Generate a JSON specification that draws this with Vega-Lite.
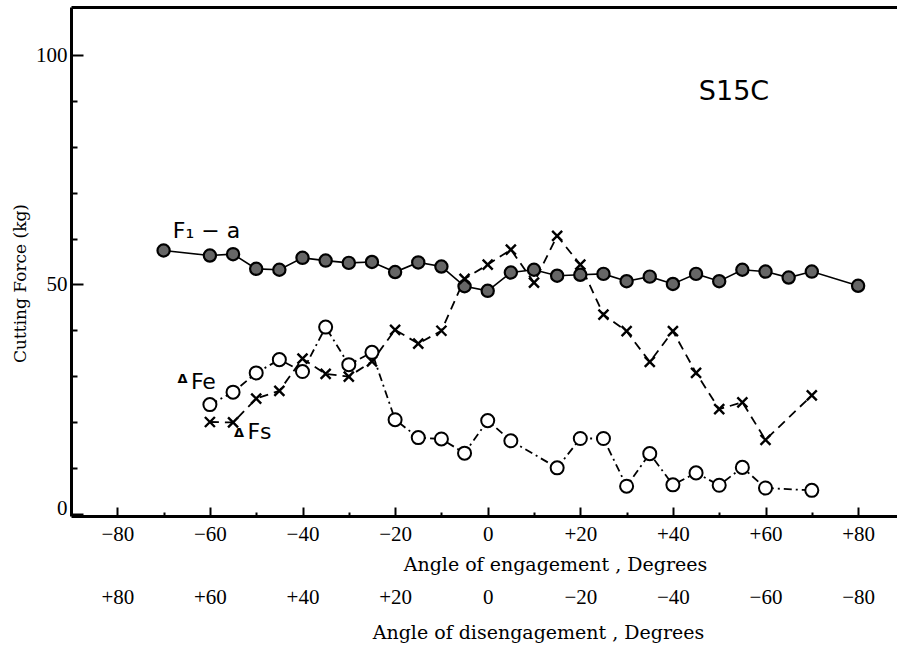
{
  "$schema": "https://vega.github.io/schema/vega-lite/v6.json",
  "autosize": "none",
  "padding": {"left": 71, "top": 7, "right": 0, "bottom": 137},
  "width": 826,
  "height": 509,
  "background": "white",
  "config": {"view": {"stroke": null}},
  "datasets": {
    "pts": [
      {"s": "F", "a": -70, "f": 57.4}, {"s": "F", "a": -60, "f": 56.3}, {"s": "F", "a": -55, "f": 56.6}, {"s": "F", "a": -50, "f": 53.4}, {"s": "F", "a": -45, "f": 53.2}, {"s": "F", "a": -40, "f": 55.8}, {"s": "F", "a": -35, "f": 55.2}, {"s": "F", "a": -30, "f": 54.7}, {"s": "F", "a": -25, "f": 54.9}, {"s": "F", "a": -20, "f": 52.7}, {"s": "F", "a": -15, "f": 54.8}, {"s": "F", "a": -10, "f": 53.9}, {"s": "F", "a": -5, "f": 49.6}, {"s": "F", "a": 0, "f": 48.6}, {"s": "F", "a": 5, "f": 52.6}, {"s": "F", "a": 10, "f": 53.2}, {"s": "F", "a": 15, "f": 51.9}, {"s": "F", "a": 20, "f": 52.1}, {"s": "F", "a": 25, "f": 52.3}, {"s": "F", "a": 30, "f": 50.7}, {"s": "F", "a": 35, "f": 51.7}, {"s": "F", "a": 40, "f": 50.1}, {"s": "F", "a": 45, "f": 52.3}, {"s": "F", "a": 50, "f": 50.7}, {"s": "F", "a": 55, "f": 53.2}, {"s": "F", "a": 60, "f": 52.8}, {"s": "F", "a": 65, "f": 51.5}, {"s": "F", "a": 70, "f": 52.8}, {"s": "F", "a": 80, "f": 49.7},
      {"s": "S", "a": -60, "f": 20.0}, {"s": "S", "a": -55, "f": 19.9}, {"s": "S", "a": -50, "f": 25.1}, {"s": "S", "a": -45, "f": 26.8}, {"s": "S", "a": -40, "f": 33.8}, {"s": "S", "a": -35, "f": 30.5}, {"s": "S", "a": -30, "f": 29.9}, {"s": "S", "a": -25, "f": 33.2}, {"s": "S", "a": -20, "f": 40.1}, {"s": "S", "a": -15, "f": 37.1}, {"s": "S", "a": -10, "f": 39.9}, {"s": "S", "a": -5, "f": 51.2}, {"s": "S", "a": 0, "f": 54.3}, {"s": "S", "a": 5, "f": 57.6}, {"s": "S", "a": 10, "f": 50.4}, {"s": "S", "a": 15, "f": 60.6}, {"s": "S", "a": 20, "f": 54.3}, {"s": "S", "a": 25, "f": 43.4}, {"s": "S", "a": 30, "f": 39.8}, {"s": "S", "a": 35, "f": 33.1}, {"s": "S", "a": 40, "f": 39.8}, {"s": "S", "a": 45, "f": 30.7}, {"s": "S", "a": 50, "f": 22.8}, {"s": "S", "a": 55, "f": 24.3}, {"s": "S", "a": 60, "f": 16.1}, {"s": "S", "a": 70, "f": 25.8},
      {"s": "E", "a": -60, "f": 23.8}, {"s": "E", "a": -55, "f": 26.5}, {"s": "E", "a": -50, "f": 30.7}, {"s": "E", "a": -45, "f": 33.6}, {"s": "E", "a": -40, "f": 31.0}, {"s": "E", "a": -35, "f": 40.7}, {"s": "E", "a": -30, "f": 32.5}, {"s": "E", "a": -25, "f": 35.2}, {"s": "E", "a": -20, "f": 20.5}, {"s": "E", "a": -15, "f": 16.6}, {"s": "E", "a": -10, "f": 16.3}, {"s": "E", "a": -5, "f": 13.2}, {"s": "E", "a": 0, "f": 20.3}, {"s": "E", "a": 5, "f": 15.9}, {"s": "E", "a": 15, "f": 10.0}, {"s": "E", "a": 20, "f": 16.4}, {"s": "E", "a": 25, "f": 16.4}, {"s": "E", "a": 30, "f": 6.0}, {"s": "E", "a": 35, "f": 13.1}, {"s": "E", "a": 40, "f": 6.3}, {"s": "E", "a": 45, "f": 8.9}, {"s": "E", "a": 50, "f": 6.2}, {"s": "E", "a": 55, "f": 10.1}, {"s": "E", "a": 60, "f": 5.6}, {"s": "E", "a": 70, "f": 5.1}
    ],
    "big": [{"t": "S15C", "a": 53.2, "f": 91.9}],
    "lab": [{"t": "F₁ − a", "a": -68.0, "f": 61.6}, {"t": "Fe", "a": -64.1, "f": 28.8}, {"t": "Fs", "a": -51.9, "f": 17.8}],
    "delta": [{"t": "Δ", "a": -67.0, "f": 29.4}, {"t": "Δ", "a": -54.8, "f": 17.6}]
  },
  "resolve": {"axis": {"x": "independent", "y": "independent"}},
  "layer": [
    {
      "data": {"name": "pts"},
      "encoding": {
        "x": {
          "field": "a", "type": "quantitative",
          "scale": {"domain": [-90, 88.4], "nice": false, "zero": false},
          "axis": {
            "values": [-80, -60, -40, -20, 0, 20, 40, 60, 80],
            "labelExpr": "datum.value > 0 ? '+' + datum.value : (datum.value < 0 ? '−' + abs(datum.value) : '0')",
            "grid": false, "ticks": false,
            "domainColor": "black", "domainWidth": 3,
            "labelFont": "Liberation Serif", "labelFontSize": 21, "labelColor": "black",
            "labelPadding": 7, "labelFlush": false,
            "title": "Angle of engagement ,  Degrees",
            "titleFont": "DejaVu Serif", "titleFontSize": 19, "titleFontWeight": "normal", "titleColor": "black",
            "titleX": 484, "titleY": 48, "titleBaseline": "middle"
          }
        },
        "y": {
          "field": "f", "type": "quantitative",
          "scale": {"domain": [-0.5, 110.5], "nice": false, "zero": false},
          "axis": {
            "orient": "left",
            "values": [0, 50, 100],
            "grid": false, "ticks": false,
            "domainColor": "black", "domainWidth": 3,
            "labelFont": "Liberation Serif", "labelFontSize": 21, "labelColor": "black",
            "labelPadding": 4,
            "labelOffset": {"condition": {"test": "datum.value === 0", "value": -5}, "value": 0},
            "title": "Cutting Force (kg)",
            "titleFont": "DejaVu Serif", "titleFontSize": 17, "titleFontWeight": "normal", "titleColor": "black",
            "titleX": -51, "titleY": 276, "titleAngle": -90, "titleBaseline": "middle"
          }
        }
      },
      "layer": [
        {"transform": [{"filter": "datum.s === 'F'"}], "mark": {"type": "line", "color": "black", "strokeWidth": 1.6}},
        {"transform": [{"filter": "datum.s === 'S'"}], "mark": {"type": "line", "color": "black", "strokeWidth": 1.8, "strokeDash": [9, 6]}},
        {"transform": [{"filter": "datum.s === 'E'"}], "mark": {"type": "line", "color": "black", "strokeWidth": 1.8, "strokeDash": [8, 4, 2, 4]}},
        {"transform": [{"filter": "datum.s === 'F'"}], "mark": {"type": "point", "shape": "circle", "filled": true, "fill": "#666666", "stroke": "black", "strokeWidth": 2.2, "size": 150, "opacity": 1}},
        {"transform": [{"filter": "datum.s === 'S'"}], "mark": {"type": "point", "shape": "M-1,-1L1,1M-1,1L1,-1", "filled": false, "stroke": "black", "strokeWidth": 2.4, "size": 100, "opacity": 1}},
        {"transform": [{"filter": "datum.s === 'E'"}], "mark": {"type": "point", "shape": "circle", "filled": true, "fill": "white", "stroke": "black", "strokeWidth": 2, "size": 170, "opacity": 1}},
        {"data": {"name": "big"}, "mark": {"type": "text", "font": "DejaVu Sans", "fontSize": 27, "color": "black", "align": "center", "baseline": "middle"}, "encoding": {"text": {"field": "t"}}},
        {"data": {"name": "lab"}, "mark": {"type": "text", "font": "DejaVu Sans", "fontSize": 22, "color": "black", "align": "left", "baseline": "middle"}, "encoding": {"text": {"field": "t"}}},
        {"data": {"name": "delta"}, "mark": {"type": "text", "font": "DejaVu Sans", "fontSize": 13, "fontWeight": "bold", "color": "black", "align": "left", "baseline": "middle"}, "encoding": {"text": {"field": "t"}}}
      ]
    },
    {
      "data": {"name": "pts"},
      "mark": {"type": "point", "opacity": 0},
      "encoding": {
        "x": {
          "field": "a", "type": "quantitative",
          "axis": {
            "orient": "bottom",
            "values": [-80, -60, -40, -20, 0, 20, 40, 60, 80],
            "labelExpr": "datum.value < 0 ? '+' + abs(datum.value) : (datum.value > 0 ? '−' + datum.value : '0')",
            "grid": false, "ticks": false, "domain": false,
            "labelFont": "Liberation Serif", "labelFontSize": 21, "labelColor": "black",
            "labelPadding": 70, "labelFlush": false,
            "title": "Angle of disengagement ,  Degrees",
            "titleFont": "DejaVu Serif", "titleFontSize": 19, "titleFontWeight": "normal", "titleColor": "black",
            "titleX": 467, "titleY": 116, "titleBaseline": "middle"
          }
        }
      }
    },
    {
      "data": {"name": "pts"},
      "mark": {"type": "point", "opacity": 0},
      "encoding": {
        "x": {
          "field": "a", "type": "quantitative",
          "axis": {"orient": "top", "labels": false, "ticks": false, "grid": false, "domain": true, "domainColor": "black", "domainWidth": 3, "title": null}
        }
      }
    },
    {
      "data": {"name": "pts"},
      "mark": {"type": "point", "opacity": 0},
      "encoding": {
        "x": {
          "field": "a", "type": "quantitative",
          "axis": {"orient": "bottom", "offset": -9, "values": [-80, -60, -40, -20, 0, 20, 40, 60, 80], "labels": false, "domain": false, "grid": false, "tickColor": "black", "tickWidth": 2, "tickSize": 9, "title": null}
        }
      }
    },
    {
      "data": {"name": "pts"},
      "mark": {"type": "point", "opacity": 0},
      "encoding": {
        "x": {
          "field": "a", "type": "quantitative",
          "axis": {"orient": "bottom", "offset": -4, "values": [-70, -50, -30, -10, 10, 30, 50, 70], "labels": false, "domain": false, "grid": false, "tickColor": "black", "tickWidth": 2, "tickSize": 4, "title": null}
        }
      }
    },
    {
      "data": {"name": "pts"},
      "mark": {"type": "point", "opacity": 0},
      "encoding": {
        "y": {
          "field": "f", "type": "quantitative",
          "axis": {"orient": "left", "offset": -12, "values": [0, 50, 100], "labels": false, "domain": false, "grid": false, "tickColor": "black", "tickWidth": 2, "tickSize": 12, "title": null}
        }
      }
    },
    {
      "data": {"name": "pts"},
      "mark": {"type": "point", "opacity": 0},
      "encoding": {
        "y": {
          "field": "f", "type": "quantitative",
          "axis": {"orient": "left", "offset": -6, "values": [10, 20, 30, 40, 60, 70, 80, 90], "labels": false, "domain": false, "grid": false, "tickColor": "black", "tickWidth": 2, "tickSize": 6, "title": null}
        }
      }
    }
  ]
}
